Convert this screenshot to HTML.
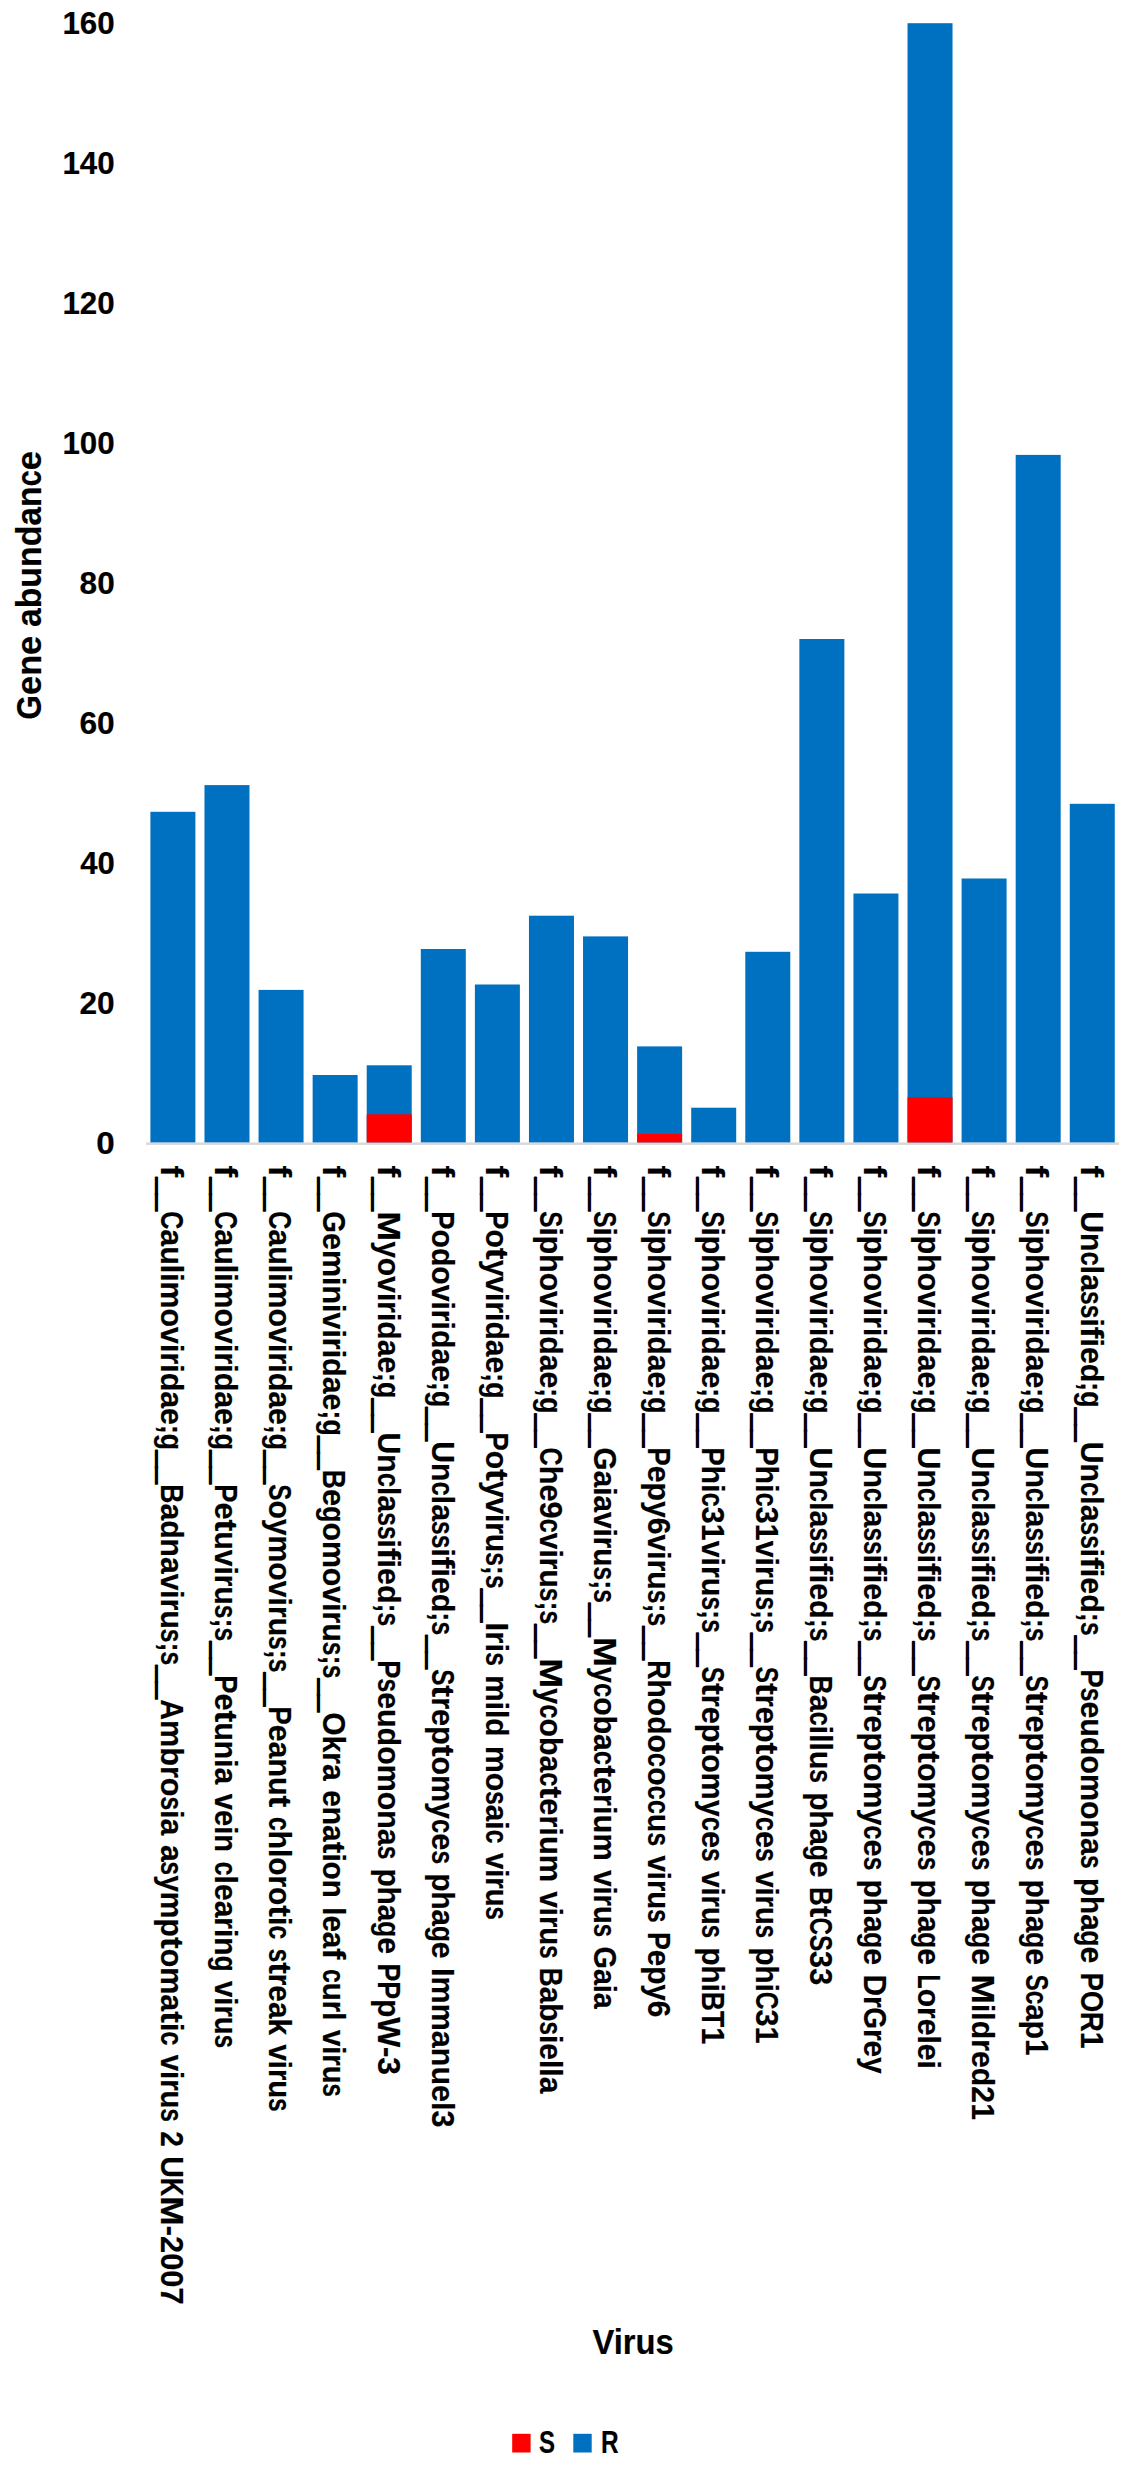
<!DOCTYPE html>
<html lang="en">
<head>
<meta charset="utf-8">
<title>Gene abundance by virus</title>
<style>
html,body{margin:0;padding:0;background:#fff;}
body{width:1146px;height:2480px;overflow:hidden;}
svg{display:block;}
text{font-family:"Liberation Sans",sans-serif;font-weight:bold;fill:#000;stroke:#000;stroke-width:0.2;stroke-linejoin:round;}
.u{stroke:#000;stroke-width:2.0;}
</style>
</head>
<body>
<svg width="1146" height="2480" viewBox="0 0 1146 2480">
<rect x="0" y="0" width="1146" height="2480" fill="#fff"/>
<!-- axis line -->
<rect x="146" y="1142.4" width="973" height="2.5" fill="#d9d9d9"/>
<!-- bars -->
<rect x="150.40" y="811.80" width="45.0" height="330.60" fill="#0070C0"/>
<rect x="204.48" y="785.10" width="45.0" height="357.30" fill="#0070C0"/>
<rect x="258.56" y="989.90" width="45.0" height="152.50" fill="#0070C0"/>
<rect x="312.64" y="1075.00" width="45.0" height="67.40" fill="#0070C0"/>
<rect x="366.72" y="1065.30" width="45.0" height="77.10" fill="#0070C0"/>
<rect x="366.72" y="1114.30" width="45.0" height="28.10" fill="#FF0000"/>
<rect x="420.80" y="949.00" width="45.0" height="193.40" fill="#0070C0"/>
<rect x="474.88" y="984.50" width="45.0" height="157.90" fill="#0070C0"/>
<rect x="528.96" y="915.70" width="45.0" height="226.70" fill="#0070C0"/>
<rect x="583.04" y="936.40" width="45.0" height="206.00" fill="#0070C0"/>
<rect x="637.12" y="1046.40" width="45.0" height="96.00" fill="#0070C0"/>
<rect x="637.12" y="1134.00" width="45.0" height="8.40" fill="#FF0000"/>
<rect x="691.20" y="1107.70" width="45.0" height="34.70" fill="#0070C0"/>
<rect x="745.28" y="951.80" width="45.0" height="190.60" fill="#0070C0"/>
<rect x="799.36" y="639.00" width="45.0" height="503.40" fill="#0070C0"/>
<rect x="853.44" y="893.50" width="45.0" height="248.90" fill="#0070C0"/>
<rect x="907.52" y="23.20" width="45.0" height="1119.20" fill="#0070C0"/>
<rect x="907.52" y="1097.30" width="45.0" height="45.10" fill="#FF0000"/>
<rect x="961.60" y="878.50" width="45.0" height="263.90" fill="#0070C0"/>
<rect x="1015.68" y="454.90" width="45.0" height="687.50" fill="#0070C0"/>
<rect x="1069.76" y="803.80" width="45.0" height="338.60" fill="#0070C0"/>
<!-- y ticks -->
<text x="96.29" y="1153.50" font-size="31.4" textLength="18.48" lengthAdjust="spacingAndGlyphs">0</text>
<text x="79.50" y="1013.56" font-size="31.4" textLength="35.19" lengthAdjust="spacingAndGlyphs">20</text>
<text x="80.13" y="873.62" font-size="31.4" textLength="34.54" lengthAdjust="spacingAndGlyphs">40</text>
<text x="79.44" y="733.68" font-size="31.4" textLength="35.26" lengthAdjust="spacingAndGlyphs">60</text>
<text x="79.60" y="593.74" font-size="31.4" textLength="35.10" lengthAdjust="spacingAndGlyphs">80</text>
<text x="62.43" y="453.80" font-size="31.4" textLength="52.26" lengthAdjust="spacingAndGlyphs">100</text>
<text x="62.43" y="313.86" font-size="31.4" textLength="52.26" lengthAdjust="spacingAndGlyphs">120</text>
<text x="62.43" y="173.92" font-size="31.4" textLength="52.26" lengthAdjust="spacingAndGlyphs">140</text>
<text x="62.43" y="33.98" font-size="31.4" textLength="52.26" lengthAdjust="spacingAndGlyphs">160</text>
<text transform="translate(41.3,718.2) rotate(-90)" y="0" font-size="35.7"><tspan x="-1.20" textLength="24.44" lengthAdjust="spacingAndGlyphs">G</tspan><tspan x="23.24" textLength="59.17" lengthAdjust="spacingAndGlyphs">ene</tspan> <tspan x="91.08" textLength="140.89" lengthAdjust="spacingAndGlyphs">abundan</tspan><tspan x="231.97" textLength="16.05" lengthAdjust="spacingAndGlyphs">c</tspan><tspan x="248.02" textLength="19.29" lengthAdjust="spacingAndGlyphs">e</tspan></text>
<text x="592.38" y="2353.9" font-size="35.4" textLength="81.36" lengthAdjust="spacingAndGlyphs">Virus</text>
<rect x="512.2" y="2433.8" width="18.4" height="18.7" fill="#FF0000"/>
<text x="539.01" y="2452.6" font-size="30.8" stroke-width="1" textLength="16.03" lengthAdjust="spacingAndGlyphs">S</text>
<rect x="573.3" y="2433.8" width="18.4" height="18.7" fill="#0070C0"/>
<text x="601.07" y="2452.6" font-size="30.8" stroke-width="1" textLength="17.63" lengthAdjust="spacingAndGlyphs">R</text>
<!-- category labels -->
<text transform="translate(161.20,1165.6) rotate(90)" font-size="31.4"><tspan x="0.00" y="0" textLength="11.67" lengthAdjust="spacingAndGlyphs">f</tspan><tspan class="u" x="12.27" y="1.1" textLength="32.82" lengthAdjust="spacingAndGlyphs">__</tspan><tspan x="45.69" y="0" textLength="18.08" lengthAdjust="spacingAndGlyphs">C</tspan><tspan x="63.76" y="0" textLength="195.56" lengthAdjust="spacingAndGlyphs">aulimoviridae</tspan><tspan x="259.33" y="0" textLength="25.31" lengthAdjust="spacingAndGlyphs">;g</tspan><tspan class="u" x="285.24" y="1.1" textLength="32.82" lengthAdjust="spacingAndGlyphs">__</tspan><tspan x="318.66" y="0" textLength="19.14" lengthAdjust="spacingAndGlyphs">B</tspan><tspan x="337.80" y="0" textLength="125.43" lengthAdjust="spacingAndGlyphs">adnaviru</tspan><tspan x="463.23" y="0" textLength="13.66" lengthAdjust="spacingAndGlyphs">s</tspan><tspan x="476.88" y="0" textLength="9.12" lengthAdjust="spacingAndGlyphs">;</tspan><tspan x="486.00" y="0" textLength="13.66" lengthAdjust="spacingAndGlyphs">s</tspan><tspan class="u" x="500.26" y="1.1" textLength="32.82" lengthAdjust="spacingAndGlyphs">__</tspan><tspan x="533.68" y="0" textLength="20.68" lengthAdjust="spacingAndGlyphs">A</tspan><tspan x="554.35" y="0" textLength="76.60" lengthAdjust="spacingAndGlyphs">mbro</tspan><tspan x="630.96" y="0" textLength="13.66" lengthAdjust="spacingAndGlyphs">s</tspan><tspan x="644.61" y="0" textLength="25.26" lengthAdjust="spacingAndGlyphs">ia</tspan> <tspan x="679.30" y="0" textLength="16.73" lengthAdjust="spacingAndGlyphs">a</tspan><tspan x="696.03" y="0" textLength="13.54" lengthAdjust="spacingAndGlyphs">s</tspan><tspan x="709.57" y="0" textLength="61.77" lengthAdjust="spacingAndGlyphs">ymp</tspan><tspan x="771.35" y="0" textLength="11.74" lengthAdjust="spacingAndGlyphs">t</tspan><tspan x="783.09" y="0" textLength="62.48" lengthAdjust="spacingAndGlyphs">oma</tspan><tspan x="845.57" y="0" textLength="11.74" lengthAdjust="spacingAndGlyphs">t</tspan><tspan x="857.31" y="0" textLength="8.32" lengthAdjust="spacingAndGlyphs">i</tspan><tspan x="865.63" y="0" textLength="14.17" lengthAdjust="spacingAndGlyphs">c</tspan> <tspan x="889.22" y="0" textLength="53.63" lengthAdjust="spacingAndGlyphs">viru</tspan><tspan x="942.85" y="0" textLength="13.32" lengthAdjust="spacingAndGlyphs">s</tspan> <tspan x="965.59" y="0" textLength="15.61" lengthAdjust="spacingAndGlyphs">2</tspan> <tspan x="990.62" y="0" textLength="21.66" lengthAdjust="spacingAndGlyphs">U</tspan><tspan x="1012.28" y="0" textLength="18.46" lengthAdjust="spacingAndGlyphs">K</tspan><tspan x="1030.74" y="0" textLength="29.51" lengthAdjust="spacingAndGlyphs">M</tspan><tspan x="1060.25" y="0" textLength="78.79" lengthAdjust="spacingAndGlyphs">-2007</tspan></text>
<text transform="translate(215.28,1165.6) rotate(90)" font-size="31.4"><tspan x="0.00" y="0" textLength="11.67" lengthAdjust="spacingAndGlyphs">f</tspan><tspan class="u" x="12.27" y="1.1" textLength="32.82" lengthAdjust="spacingAndGlyphs">__</tspan><tspan x="45.69" y="0" textLength="18.08" lengthAdjust="spacingAndGlyphs">C</tspan><tspan x="63.76" y="0" textLength="195.56" lengthAdjust="spacingAndGlyphs">aulimoviridae</tspan><tspan x="259.33" y="0" textLength="25.31" lengthAdjust="spacingAndGlyphs">;g</tspan><tspan class="u" x="285.24" y="1.1" textLength="32.82" lengthAdjust="spacingAndGlyphs">__</tspan><tspan x="318.66" y="0" textLength="18.18" lengthAdjust="spacingAndGlyphs">P</tspan><tspan x="336.83" y="0" textLength="17.18" lengthAdjust="spacingAndGlyphs">e</tspan><tspan x="354.01" y="0" textLength="11.84" lengthAdjust="spacingAndGlyphs">t</tspan><tspan x="365.85" y="0" textLength="73.34" lengthAdjust="spacingAndGlyphs">uviru</tspan><tspan x="439.18" y="0" textLength="13.66" lengthAdjust="spacingAndGlyphs">s</tspan><tspan x="452.84" y="0" textLength="9.12" lengthAdjust="spacingAndGlyphs">;</tspan><tspan x="461.96" y="0" textLength="13.66" lengthAdjust="spacingAndGlyphs">s</tspan><tspan class="u" x="476.22" y="1.1" textLength="32.82" lengthAdjust="spacingAndGlyphs">__</tspan><tspan x="509.63" y="0" textLength="18.18" lengthAdjust="spacingAndGlyphs">P</tspan><tspan x="527.81" y="0" textLength="17.18" lengthAdjust="spacingAndGlyphs">e</tspan><tspan x="544.98" y="0" textLength="11.84" lengthAdjust="spacingAndGlyphs">t</tspan><tspan x="556.82" y="0" textLength="61.95" lengthAdjust="spacingAndGlyphs">unia</tspan> <tspan x="628.19" y="0" textLength="58.35" lengthAdjust="spacingAndGlyphs">vein</tspan> <tspan x="695.96" y="0" textLength="14.07" lengthAdjust="spacingAndGlyphs">c</tspan><tspan x="710.03" y="0" textLength="80.05" lengthAdjust="spacingAndGlyphs">learin</tspan><tspan x="790.08" y="0" textLength="15.94" lengthAdjust="spacingAndGlyphs">g</tspan> <tspan x="815.45" y="0" textLength="53.63" lengthAdjust="spacingAndGlyphs">viru</tspan><tspan x="869.08" y="0" textLength="13.32" lengthAdjust="spacingAndGlyphs">s</tspan></text>
<text transform="translate(269.36,1165.6) rotate(90)" font-size="31.4"><tspan x="0.00" y="0" textLength="11.67" lengthAdjust="spacingAndGlyphs">f</tspan><tspan class="u" x="12.27" y="1.1" textLength="32.82" lengthAdjust="spacingAndGlyphs">__</tspan><tspan x="45.69" y="0" textLength="18.08" lengthAdjust="spacingAndGlyphs">C</tspan><tspan x="63.76" y="0" textLength="195.56" lengthAdjust="spacingAndGlyphs">aulimoviridae</tspan><tspan x="259.33" y="0" textLength="25.31" lengthAdjust="spacingAndGlyphs">;g</tspan><tspan class="u" x="285.24" y="1.1" textLength="32.82" lengthAdjust="spacingAndGlyphs">__</tspan><tspan x="318.66" y="0" textLength="16.14" lengthAdjust="spacingAndGlyphs">S</tspan><tspan x="334.80" y="0" textLength="135.67" lengthAdjust="spacingAndGlyphs">oymoviru</tspan><tspan x="470.46" y="0" textLength="13.66" lengthAdjust="spacingAndGlyphs">s</tspan><tspan x="484.12" y="0" textLength="9.12" lengthAdjust="spacingAndGlyphs">;</tspan><tspan x="493.24" y="0" textLength="13.66" lengthAdjust="spacingAndGlyphs">s</tspan><tspan class="u" x="507.50" y="1.1" textLength="32.82" lengthAdjust="spacingAndGlyphs">__</tspan><tspan x="540.91" y="0" textLength="18.18" lengthAdjust="spacingAndGlyphs">P</tspan><tspan x="559.09" y="0" textLength="70.73" lengthAdjust="spacingAndGlyphs">eanu</tspan><tspan x="629.82" y="0" textLength="11.84" lengthAdjust="spacingAndGlyphs">t</tspan> <tspan x="651.08" y="0" textLength="14.09" lengthAdjust="spacingAndGlyphs">c</tspan><tspan x="665.18" y="0" textLength="74.54" lengthAdjust="spacingAndGlyphs">hloro</tspan><tspan x="739.72" y="0" textLength="11.68" lengthAdjust="spacingAndGlyphs">t</tspan><tspan x="751.39" y="0" textLength="8.27" lengthAdjust="spacingAndGlyphs">i</tspan><tspan x="759.67" y="0" textLength="14.09" lengthAdjust="spacingAndGlyphs">c</tspan> <tspan x="783.18" y="0" textLength="13.39" lengthAdjust="spacingAndGlyphs">s</tspan><tspan x="796.57" y="0" textLength="11.61" lengthAdjust="spacingAndGlyphs">t</tspan><tspan x="808.18" y="0" textLength="61.34" lengthAdjust="spacingAndGlyphs">reak</tspan> <tspan x="878.94" y="0" textLength="53.63" lengthAdjust="spacingAndGlyphs">viru</tspan><tspan x="932.58" y="0" textLength="13.32" lengthAdjust="spacingAndGlyphs">s</tspan></text>
<text transform="translate(323.44,1165.6) rotate(90)" font-size="31.4"><tspan x="0.00" y="0" textLength="11.67" lengthAdjust="spacingAndGlyphs">f</tspan><tspan class="u" x="12.27" y="1.1" textLength="32.82" lengthAdjust="spacingAndGlyphs">__</tspan><tspan x="45.69" y="0" textLength="21.76" lengthAdjust="spacingAndGlyphs">G</tspan><tspan x="67.45" y="0" textLength="177.50" lengthAdjust="spacingAndGlyphs">eminiviridae</tspan><tspan x="244.95" y="0" textLength="25.31" lengthAdjust="spacingAndGlyphs">;g</tspan><tspan class="u" x="270.87" y="1.1" textLength="32.82" lengthAdjust="spacingAndGlyphs">__</tspan><tspan x="304.28" y="0" textLength="19.14" lengthAdjust="spacingAndGlyphs">B</tspan><tspan x="323.42" y="0" textLength="17.18" lengthAdjust="spacingAndGlyphs">e</tspan><tspan x="340.60" y="0" textLength="16.19" lengthAdjust="spacingAndGlyphs">g</tspan><tspan x="356.79" y="0" textLength="119.49" lengthAdjust="spacingAndGlyphs">omoviru</tspan><tspan x="476.28" y="0" textLength="13.66" lengthAdjust="spacingAndGlyphs">s</tspan><tspan x="489.94" y="0" textLength="9.12" lengthAdjust="spacingAndGlyphs">;</tspan><tspan x="499.06" y="0" textLength="13.66" lengthAdjust="spacingAndGlyphs">s</tspan><tspan class="u" x="513.32" y="1.1" textLength="32.82" lengthAdjust="spacingAndGlyphs">__</tspan><tspan x="546.73" y="0" textLength="68.42" lengthAdjust="spacingAndGlyphs">Okra</tspan> <tspan x="624.57" y="0" textLength="51.58" lengthAdjust="spacingAndGlyphs">ena</tspan><tspan x="676.15" y="0" textLength="11.66" lengthAdjust="spacingAndGlyphs">t</tspan><tspan x="687.80" y="0" textLength="44.39" lengthAdjust="spacingAndGlyphs">ion</tspan> <tspan x="741.61" y="0" textLength="41.10" lengthAdjust="spacingAndGlyphs">lea</tspan><tspan x="782.72" y="0" textLength="11.31" lengthAdjust="spacingAndGlyphs">f</tspan> <tspan x="803.44" y="0" textLength="13.83" lengthAdjust="spacingAndGlyphs">c</tspan><tspan x="817.27" y="0" textLength="37.61" lengthAdjust="spacingAndGlyphs">url</tspan> <tspan x="864.30" y="0" textLength="53.63" lengthAdjust="spacingAndGlyphs">viru</tspan><tspan x="917.94" y="0" textLength="13.32" lengthAdjust="spacingAndGlyphs">s</tspan></text>
<text transform="translate(377.52,1165.6) rotate(90)" font-size="31.4"><tspan x="0.00" y="0" textLength="11.67" lengthAdjust="spacingAndGlyphs">f</tspan><tspan class="u" x="12.27" y="1.1" textLength="32.82" lengthAdjust="spacingAndGlyphs">__</tspan><tspan x="45.69" y="0" textLength="29.85" lengthAdjust="spacingAndGlyphs">M</tspan><tspan x="75.54" y="0" textLength="131.96" lengthAdjust="spacingAndGlyphs">yoviridae</tspan><tspan x="207.50" y="0" textLength="25.31" lengthAdjust="spacingAndGlyphs">;g</tspan><tspan class="u" x="233.41" y="1.1" textLength="32.82" lengthAdjust="spacingAndGlyphs">__</tspan><tspan x="266.83" y="0" textLength="40.25" lengthAdjust="spacingAndGlyphs">Un</tspan><tspan x="307.08" y="0" textLength="14.29" lengthAdjust="spacingAndGlyphs">c</tspan><tspan x="321.37" y="0" textLength="25.26" lengthAdjust="spacingAndGlyphs">la</tspan><tspan x="346.64" y="0" textLength="27.31" lengthAdjust="spacingAndGlyphs">ss</tspan><tspan x="373.95" y="0" textLength="8.39" lengthAdjust="spacingAndGlyphs">i</tspan><tspan x="382.34" y="0" textLength="11.67" lengthAdjust="spacingAndGlyphs">f</tspan><tspan x="394.01" y="0" textLength="43.90" lengthAdjust="spacingAndGlyphs">ied</tspan><tspan x="437.91" y="0" textLength="9.12" lengthAdjust="spacingAndGlyphs">;</tspan><tspan x="447.03" y="0" textLength="13.66" lengthAdjust="spacingAndGlyphs">s</tspan><tspan class="u" x="461.29" y="1.1" textLength="32.82" lengthAdjust="spacingAndGlyphs">__</tspan><tspan x="494.71" y="0" textLength="18.18" lengthAdjust="spacingAndGlyphs">P</tspan><tspan x="512.88" y="0" textLength="13.66" lengthAdjust="spacingAndGlyphs">s</tspan><tspan x="526.54" y="0" textLength="153.57" lengthAdjust="spacingAndGlyphs">eudomona</tspan><tspan x="680.12" y="0" textLength="13.66" lengthAdjust="spacingAndGlyphs">s</tspan> <tspan x="703.19" y="0" textLength="52.51" lengthAdjust="spacingAndGlyphs">pha</tspan><tspan x="755.70" y="0" textLength="15.87" lengthAdjust="spacingAndGlyphs">g</tspan><tspan x="771.58" y="0" textLength="16.84" lengthAdjust="spacingAndGlyphs">e</tspan> <tspan x="797.84" y="0" textLength="35.81" lengthAdjust="spacingAndGlyphs">PP</tspan><tspan x="833.64" y="0" textLength="18.07" lengthAdjust="spacingAndGlyphs">p</tspan><tspan x="851.71" y="0" textLength="57.62" lengthAdjust="spacingAndGlyphs">W-3</tspan></text>
<text transform="translate(431.60,1165.6) rotate(90)" font-size="31.4"><tspan x="0.00" y="0" textLength="11.67" lengthAdjust="spacingAndGlyphs">f</tspan><tspan class="u" x="12.27" y="1.1" textLength="32.82" lengthAdjust="spacingAndGlyphs">__</tspan><tspan x="45.69" y="0" textLength="18.18" lengthAdjust="spacingAndGlyphs">P</tspan><tspan x="63.86" y="0" textLength="152.49" lengthAdjust="spacingAndGlyphs">odoviridae</tspan><tspan x="216.36" y="0" textLength="25.31" lengthAdjust="spacingAndGlyphs">;g</tspan><tspan class="u" x="242.27" y="1.1" textLength="32.82" lengthAdjust="spacingAndGlyphs">__</tspan><tspan x="275.68" y="0" textLength="40.25" lengthAdjust="spacingAndGlyphs">Un</tspan><tspan x="315.94" y="0" textLength="14.29" lengthAdjust="spacingAndGlyphs">c</tspan><tspan x="330.23" y="0" textLength="25.26" lengthAdjust="spacingAndGlyphs">la</tspan><tspan x="355.49" y="0" textLength="27.31" lengthAdjust="spacingAndGlyphs">ss</tspan><tspan x="382.80" y="0" textLength="8.39" lengthAdjust="spacingAndGlyphs">i</tspan><tspan x="391.19" y="0" textLength="11.67" lengthAdjust="spacingAndGlyphs">f</tspan><tspan x="402.86" y="0" textLength="43.90" lengthAdjust="spacingAndGlyphs">ied</tspan><tspan x="446.77" y="0" textLength="9.12" lengthAdjust="spacingAndGlyphs">;</tspan><tspan x="455.89" y="0" textLength="13.66" lengthAdjust="spacingAndGlyphs">s</tspan><tspan class="u" x="470.15" y="1.1" textLength="32.82" lengthAdjust="spacingAndGlyphs">__</tspan><tspan x="503.56" y="0" textLength="16.14" lengthAdjust="spacingAndGlyphs">S</tspan><tspan x="519.70" y="0" textLength="11.84" lengthAdjust="spacingAndGlyphs">t</tspan><tspan x="531.54" y="0" textLength="47.64" lengthAdjust="spacingAndGlyphs">rep</tspan><tspan x="579.18" y="0" textLength="11.84" lengthAdjust="spacingAndGlyphs">t</tspan><tspan x="591.02" y="0" textLength="62.31" lengthAdjust="spacingAndGlyphs">omy</tspan><tspan x="653.34" y="0" textLength="14.29" lengthAdjust="spacingAndGlyphs">c</tspan><tspan x="667.63" y="0" textLength="17.18" lengthAdjust="spacingAndGlyphs">e</tspan><tspan x="684.80" y="0" textLength="13.66" lengthAdjust="spacingAndGlyphs">s</tspan> <tspan x="707.88" y="0" textLength="52.51" lengthAdjust="spacingAndGlyphs">pha</tspan><tspan x="760.39" y="0" textLength="15.87" lengthAdjust="spacingAndGlyphs">g</tspan><tspan x="776.26" y="0" textLength="16.84" lengthAdjust="spacingAndGlyphs">e</tspan> <tspan x="802.52" y="0" textLength="159.40" lengthAdjust="spacingAndGlyphs">Immanuel3</tspan></text>
<text transform="translate(485.68,1165.6) rotate(90)" font-size="31.4"><tspan x="0.00" y="0" textLength="11.67" lengthAdjust="spacingAndGlyphs">f</tspan><tspan class="u" x="12.27" y="1.1" textLength="32.82" lengthAdjust="spacingAndGlyphs">__</tspan><tspan x="45.69" y="0" textLength="18.18" lengthAdjust="spacingAndGlyphs">P</tspan><tspan x="63.86" y="0" textLength="18.36" lengthAdjust="spacingAndGlyphs">o</tspan><tspan x="82.22" y="0" textLength="11.84" lengthAdjust="spacingAndGlyphs">t</tspan><tspan x="94.06" y="0" textLength="113.61" lengthAdjust="spacingAndGlyphs">yviridae</tspan><tspan x="207.67" y="0" textLength="25.31" lengthAdjust="spacingAndGlyphs">;g</tspan><tspan class="u" x="233.58" y="1.1" textLength="32.82" lengthAdjust="spacingAndGlyphs">__</tspan><tspan x="267.00" y="0" textLength="18.18" lengthAdjust="spacingAndGlyphs">P</tspan><tspan x="285.17" y="0" textLength="18.36" lengthAdjust="spacingAndGlyphs">o</tspan><tspan x="303.53" y="0" textLength="11.84" lengthAdjust="spacingAndGlyphs">t</tspan><tspan x="315.37" y="0" textLength="71.17" lengthAdjust="spacingAndGlyphs">yviru</tspan><tspan x="386.54" y="0" textLength="13.66" lengthAdjust="spacingAndGlyphs">s</tspan><tspan x="400.20" y="0" textLength="9.12" lengthAdjust="spacingAndGlyphs">;</tspan><tspan x="409.32" y="0" textLength="13.66" lengthAdjust="spacingAndGlyphs">s</tspan><tspan class="u" x="423.57" y="1.1" textLength="32.82" lengthAdjust="spacingAndGlyphs">__</tspan><tspan x="456.99" y="0" textLength="29.61" lengthAdjust="spacingAndGlyphs">Iri</tspan><tspan x="486.60" y="0" textLength="13.66" lengthAdjust="spacingAndGlyphs">s</tspan> <tspan x="509.68" y="0" textLength="61.20" lengthAdjust="spacingAndGlyphs">mild</tspan> <tspan x="580.30" y="0" textLength="45.35" lengthAdjust="spacingAndGlyphs">mo</tspan><tspan x="625.65" y="0" textLength="13.42" lengthAdjust="spacingAndGlyphs">s</tspan><tspan x="639.07" y="0" textLength="24.83" lengthAdjust="spacingAndGlyphs">ai</tspan><tspan x="663.90" y="0" textLength="14.05" lengthAdjust="spacingAndGlyphs">c</tspan> <tspan x="687.37" y="0" textLength="53.63" lengthAdjust="spacingAndGlyphs">viru</tspan><tspan x="741.00" y="0" textLength="13.32" lengthAdjust="spacingAndGlyphs">s</tspan></text>
<text transform="translate(539.76,1165.6) rotate(90)" font-size="31.4"><tspan x="0.00" y="0" textLength="11.67" lengthAdjust="spacingAndGlyphs">f</tspan><tspan class="u" x="12.27" y="1.1" textLength="32.82" lengthAdjust="spacingAndGlyphs">__</tspan><tspan x="45.69" y="0" textLength="16.14" lengthAdjust="spacingAndGlyphs">S</tspan><tspan x="61.83" y="0" textLength="160.86" lengthAdjust="spacingAndGlyphs">iphoviridae</tspan><tspan x="222.69" y="0" textLength="25.31" lengthAdjust="spacingAndGlyphs">;g</tspan><tspan class="u" x="248.60" y="1.1" textLength="32.82" lengthAdjust="spacingAndGlyphs">__</tspan><tspan x="282.02" y="0" textLength="18.08" lengthAdjust="spacingAndGlyphs">C</tspan><tspan x="300.10" y="0" textLength="52.83" lengthAdjust="spacingAndGlyphs">he9</tspan><tspan x="352.92" y="0" textLength="14.29" lengthAdjust="spacingAndGlyphs">c</tspan><tspan x="367.21" y="0" textLength="54.99" lengthAdjust="spacingAndGlyphs">viru</tspan><tspan x="422.21" y="0" textLength="13.66" lengthAdjust="spacingAndGlyphs">s</tspan><tspan x="435.86" y="0" textLength="9.12" lengthAdjust="spacingAndGlyphs">;</tspan><tspan x="444.98" y="0" textLength="13.66" lengthAdjust="spacingAndGlyphs">s</tspan><tspan class="u" x="459.24" y="1.1" textLength="32.82" lengthAdjust="spacingAndGlyphs">__</tspan><tspan x="492.66" y="0" textLength="29.85" lengthAdjust="spacingAndGlyphs">M</tspan><tspan x="522.51" y="0" textLength="16.17" lengthAdjust="spacingAndGlyphs">y</tspan><tspan x="538.68" y="0" textLength="14.29" lengthAdjust="spacingAndGlyphs">c</tspan><tspan x="552.97" y="0" textLength="53.58" lengthAdjust="spacingAndGlyphs">oba</tspan><tspan x="606.55" y="0" textLength="14.29" lengthAdjust="spacingAndGlyphs">c</tspan><tspan x="620.84" y="0" textLength="11.84" lengthAdjust="spacingAndGlyphs">t</tspan><tspan x="632.68" y="0" textLength="83.81" lengthAdjust="spacingAndGlyphs">erium</tspan> <tspan x="725.90" y="0" textLength="53.63" lengthAdjust="spacingAndGlyphs">viru</tspan><tspan x="779.54" y="0" textLength="13.32" lengthAdjust="spacingAndGlyphs">s</tspan> <tspan x="802.27" y="0" textLength="18.89" lengthAdjust="spacingAndGlyphs">B</tspan><tspan x="821.16" y="0" textLength="34.75" lengthAdjust="spacingAndGlyphs">ab</tspan><tspan x="855.91" y="0" textLength="13.47" lengthAdjust="spacingAndGlyphs">s</tspan><tspan x="869.38" y="0" textLength="58.42" lengthAdjust="spacingAndGlyphs">iella</tspan></text>
<text transform="translate(593.84,1165.6) rotate(90)" font-size="31.4"><tspan x="0.00" y="0" textLength="11.67" lengthAdjust="spacingAndGlyphs">f</tspan><tspan class="u" x="12.27" y="1.1" textLength="32.82" lengthAdjust="spacingAndGlyphs">__</tspan><tspan x="45.69" y="0" textLength="16.14" lengthAdjust="spacingAndGlyphs">S</tspan><tspan x="61.83" y="0" textLength="160.86" lengthAdjust="spacingAndGlyphs">iphoviridae</tspan><tspan x="222.69" y="0" textLength="25.31" lengthAdjust="spacingAndGlyphs">;g</tspan><tspan class="u" x="248.60" y="1.1" textLength="32.82" lengthAdjust="spacingAndGlyphs">__</tspan><tspan x="282.02" y="0" textLength="118.89" lengthAdjust="spacingAndGlyphs">Gaiaviru</tspan><tspan x="400.91" y="0" textLength="13.66" lengthAdjust="spacingAndGlyphs">s</tspan><tspan x="414.57" y="0" textLength="9.12" lengthAdjust="spacingAndGlyphs">;</tspan><tspan x="423.69" y="0" textLength="13.66" lengthAdjust="spacingAndGlyphs">s</tspan><tspan class="u" x="437.95" y="1.1" textLength="32.82" lengthAdjust="spacingAndGlyphs">__</tspan><tspan x="471.36" y="0" textLength="29.85" lengthAdjust="spacingAndGlyphs">M</tspan><tspan x="501.21" y="0" textLength="16.17" lengthAdjust="spacingAndGlyphs">y</tspan><tspan x="517.39" y="0" textLength="14.29" lengthAdjust="spacingAndGlyphs">c</tspan><tspan x="531.68" y="0" textLength="53.58" lengthAdjust="spacingAndGlyphs">oba</tspan><tspan x="585.25" y="0" textLength="14.29" lengthAdjust="spacingAndGlyphs">c</tspan><tspan x="599.54" y="0" textLength="11.84" lengthAdjust="spacingAndGlyphs">t</tspan><tspan x="611.38" y="0" textLength="83.81" lengthAdjust="spacingAndGlyphs">erium</tspan> <tspan x="704.61" y="0" textLength="53.63" lengthAdjust="spacingAndGlyphs">viru</tspan><tspan x="758.24" y="0" textLength="13.32" lengthAdjust="spacingAndGlyphs">s</tspan> <tspan x="780.98" y="0" textLength="62.20" lengthAdjust="spacingAndGlyphs">Gaia</tspan></text>
<text transform="translate(647.92,1165.6) rotate(90)" font-size="31.4"><tspan x="0.00" y="0" textLength="11.67" lengthAdjust="spacingAndGlyphs">f</tspan><tspan class="u" x="12.27" y="1.1" textLength="32.82" lengthAdjust="spacingAndGlyphs">__</tspan><tspan x="45.69" y="0" textLength="16.14" lengthAdjust="spacingAndGlyphs">S</tspan><tspan x="61.83" y="0" textLength="160.86" lengthAdjust="spacingAndGlyphs">iphoviridae</tspan><tspan x="222.69" y="0" textLength="25.31" lengthAdjust="spacingAndGlyphs">;g</tspan><tspan class="u" x="248.60" y="1.1" textLength="32.82" lengthAdjust="spacingAndGlyphs">__</tspan><tspan x="282.02" y="0" textLength="18.18" lengthAdjust="spacingAndGlyphs">P</tspan><tspan x="300.20" y="0" textLength="123.99" lengthAdjust="spacingAndGlyphs">epy6viru</tspan><tspan x="424.19" y="0" textLength="13.66" lengthAdjust="spacingAndGlyphs">s</tspan><tspan x="437.85" y="0" textLength="9.12" lengthAdjust="spacingAndGlyphs">;</tspan><tspan x="446.97" y="0" textLength="13.66" lengthAdjust="spacingAndGlyphs">s</tspan><tspan class="u" x="461.22" y="1.1" textLength="32.82" lengthAdjust="spacingAndGlyphs">__</tspan><tspan x="494.64" y="0" textLength="19.23" lengthAdjust="spacingAndGlyphs">R</tspan><tspan x="513.87" y="0" textLength="73.40" lengthAdjust="spacingAndGlyphs">hodo</tspan><tspan x="587.27" y="0" textLength="14.29" lengthAdjust="spacingAndGlyphs">c</tspan><tspan x="601.56" y="0" textLength="18.36" lengthAdjust="spacingAndGlyphs">o</tspan><tspan x="619.92" y="0" textLength="28.58" lengthAdjust="spacingAndGlyphs">cc</tspan><tspan x="648.50" y="0" textLength="18.34" lengthAdjust="spacingAndGlyphs">u</tspan><tspan x="666.84" y="0" textLength="13.66" lengthAdjust="spacingAndGlyphs">s</tspan> <tspan x="689.92" y="0" textLength="53.63" lengthAdjust="spacingAndGlyphs">viru</tspan><tspan x="743.55" y="0" textLength="13.32" lengthAdjust="spacingAndGlyphs">s</tspan> <tspan x="766.29" y="0" textLength="17.82" lengthAdjust="spacingAndGlyphs">P</tspan><tspan x="784.11" y="0" textLength="67.65" lengthAdjust="spacingAndGlyphs">epy6</tspan></text>
<text transform="translate(702.00,1165.6) rotate(90)" font-size="31.4"><tspan x="0.00" y="0" textLength="11.67" lengthAdjust="spacingAndGlyphs">f</tspan><tspan class="u" x="12.27" y="1.1" textLength="32.82" lengthAdjust="spacingAndGlyphs">__</tspan><tspan x="45.69" y="0" textLength="16.14" lengthAdjust="spacingAndGlyphs">S</tspan><tspan x="61.83" y="0" textLength="160.86" lengthAdjust="spacingAndGlyphs">iphoviridae</tspan><tspan x="222.69" y="0" textLength="25.31" lengthAdjust="spacingAndGlyphs">;g</tspan><tspan class="u" x="248.60" y="1.1" textLength="32.82" lengthAdjust="spacingAndGlyphs">__</tspan><tspan x="282.02" y="0" textLength="18.18" lengthAdjust="spacingAndGlyphs">P</tspan><tspan x="300.20" y="0" textLength="26.73" lengthAdjust="spacingAndGlyphs">hi</tspan><tspan x="326.93" y="0" textLength="14.29" lengthAdjust="spacingAndGlyphs">c</tspan><tspan x="341.22" y="0" textLength="89.61" lengthAdjust="spacingAndGlyphs">31viru</tspan><tspan x="430.83" y="0" textLength="13.66" lengthAdjust="spacingAndGlyphs">s</tspan><tspan x="444.48" y="0" textLength="9.12" lengthAdjust="spacingAndGlyphs">;</tspan><tspan x="453.60" y="0" textLength="13.66" lengthAdjust="spacingAndGlyphs">s</tspan><tspan class="u" x="467.86" y="1.1" textLength="32.82" lengthAdjust="spacingAndGlyphs">__</tspan><tspan x="501.28" y="0" textLength="16.14" lengthAdjust="spacingAndGlyphs">S</tspan><tspan x="517.42" y="0" textLength="11.84" lengthAdjust="spacingAndGlyphs">t</tspan><tspan x="529.26" y="0" textLength="47.64" lengthAdjust="spacingAndGlyphs">rep</tspan><tspan x="576.90" y="0" textLength="11.84" lengthAdjust="spacingAndGlyphs">t</tspan><tspan x="588.74" y="0" textLength="62.31" lengthAdjust="spacingAndGlyphs">omy</tspan><tspan x="651.05" y="0" textLength="14.29" lengthAdjust="spacingAndGlyphs">c</tspan><tspan x="665.34" y="0" textLength="17.18" lengthAdjust="spacingAndGlyphs">e</tspan><tspan x="682.52" y="0" textLength="13.66" lengthAdjust="spacingAndGlyphs">s</tspan> <tspan x="705.59" y="0" textLength="53.63" lengthAdjust="spacingAndGlyphs">viru</tspan><tspan x="759.23" y="0" textLength="13.32" lengthAdjust="spacingAndGlyphs">s</tspan> <tspan x="781.96" y="0" textLength="44.29" lengthAdjust="spacingAndGlyphs">phi</tspan><tspan x="826.26" y="0" textLength="35.43" lengthAdjust="spacingAndGlyphs">BT</tspan><tspan x="861.69" y="0" textLength="17.01" lengthAdjust="spacingAndGlyphs">1</tspan></text>
<text transform="translate(756.08,1165.6) rotate(90)" font-size="31.4"><tspan x="0.00" y="0" textLength="11.67" lengthAdjust="spacingAndGlyphs">f</tspan><tspan class="u" x="12.27" y="1.1" textLength="32.82" lengthAdjust="spacingAndGlyphs">__</tspan><tspan x="45.69" y="0" textLength="16.14" lengthAdjust="spacingAndGlyphs">S</tspan><tspan x="61.83" y="0" textLength="160.86" lengthAdjust="spacingAndGlyphs">iphoviridae</tspan><tspan x="222.69" y="0" textLength="25.31" lengthAdjust="spacingAndGlyphs">;g</tspan><tspan class="u" x="248.60" y="1.1" textLength="32.82" lengthAdjust="spacingAndGlyphs">__</tspan><tspan x="282.02" y="0" textLength="18.18" lengthAdjust="spacingAndGlyphs">P</tspan><tspan x="300.20" y="0" textLength="26.73" lengthAdjust="spacingAndGlyphs">hi</tspan><tspan x="326.93" y="0" textLength="14.29" lengthAdjust="spacingAndGlyphs">c</tspan><tspan x="341.22" y="0" textLength="89.61" lengthAdjust="spacingAndGlyphs">31viru</tspan><tspan x="430.83" y="0" textLength="13.66" lengthAdjust="spacingAndGlyphs">s</tspan><tspan x="444.48" y="0" textLength="9.12" lengthAdjust="spacingAndGlyphs">;</tspan><tspan x="453.60" y="0" textLength="13.66" lengthAdjust="spacingAndGlyphs">s</tspan><tspan class="u" x="467.86" y="1.1" textLength="32.82" lengthAdjust="spacingAndGlyphs">__</tspan><tspan x="501.28" y="0" textLength="16.14" lengthAdjust="spacingAndGlyphs">S</tspan><tspan x="517.42" y="0" textLength="11.84" lengthAdjust="spacingAndGlyphs">t</tspan><tspan x="529.26" y="0" textLength="47.64" lengthAdjust="spacingAndGlyphs">rep</tspan><tspan x="576.90" y="0" textLength="11.84" lengthAdjust="spacingAndGlyphs">t</tspan><tspan x="588.74" y="0" textLength="62.31" lengthAdjust="spacingAndGlyphs">omy</tspan><tspan x="651.05" y="0" textLength="14.29" lengthAdjust="spacingAndGlyphs">c</tspan><tspan x="665.34" y="0" textLength="17.18" lengthAdjust="spacingAndGlyphs">e</tspan><tspan x="682.52" y="0" textLength="13.66" lengthAdjust="spacingAndGlyphs">s</tspan> <tspan x="705.59" y="0" textLength="53.63" lengthAdjust="spacingAndGlyphs">viru</tspan><tspan x="759.23" y="0" textLength="13.32" lengthAdjust="spacingAndGlyphs">s</tspan> <tspan x="781.96" y="0" textLength="44.29" lengthAdjust="spacingAndGlyphs">phi</tspan><tspan x="826.25" y="0" textLength="17.76" lengthAdjust="spacingAndGlyphs">C</tspan><tspan x="844.01" y="0" textLength="34.01" lengthAdjust="spacingAndGlyphs">31</tspan></text>
<text transform="translate(810.16,1165.6) rotate(90)" font-size="31.4"><tspan x="0.00" y="0" textLength="11.67" lengthAdjust="spacingAndGlyphs">f</tspan><tspan class="u" x="12.27" y="1.1" textLength="32.82" lengthAdjust="spacingAndGlyphs">__</tspan><tspan x="45.69" y="0" textLength="16.14" lengthAdjust="spacingAndGlyphs">S</tspan><tspan x="61.83" y="0" textLength="160.86" lengthAdjust="spacingAndGlyphs">iphoviridae</tspan><tspan x="222.69" y="0" textLength="25.31" lengthAdjust="spacingAndGlyphs">;g</tspan><tspan class="u" x="248.60" y="1.1" textLength="32.82" lengthAdjust="spacingAndGlyphs">__</tspan><tspan x="282.02" y="0" textLength="40.25" lengthAdjust="spacingAndGlyphs">Un</tspan><tspan x="322.27" y="0" textLength="14.29" lengthAdjust="spacingAndGlyphs">c</tspan><tspan x="336.56" y="0" textLength="25.26" lengthAdjust="spacingAndGlyphs">la</tspan><tspan x="361.83" y="0" textLength="27.31" lengthAdjust="spacingAndGlyphs">ss</tspan><tspan x="389.14" y="0" textLength="8.39" lengthAdjust="spacingAndGlyphs">i</tspan><tspan x="397.53" y="0" textLength="11.67" lengthAdjust="spacingAndGlyphs">f</tspan><tspan x="409.20" y="0" textLength="43.90" lengthAdjust="spacingAndGlyphs">ied</tspan><tspan x="453.10" y="0" textLength="9.12" lengthAdjust="spacingAndGlyphs">;</tspan><tspan x="462.23" y="0" textLength="13.66" lengthAdjust="spacingAndGlyphs">s</tspan><tspan class="u" x="476.48" y="1.1" textLength="32.82" lengthAdjust="spacingAndGlyphs">__</tspan><tspan x="509.90" y="0" textLength="19.14" lengthAdjust="spacingAndGlyphs">B</tspan><tspan x="529.04" y="0" textLength="16.87" lengthAdjust="spacingAndGlyphs">a</tspan><tspan x="545.92" y="0" textLength="14.29" lengthAdjust="spacingAndGlyphs">c</tspan><tspan x="560.21" y="0" textLength="43.50" lengthAdjust="spacingAndGlyphs">illu</tspan><tspan x="603.71" y="0" textLength="13.66" lengthAdjust="spacingAndGlyphs">s</tspan> <tspan x="626.79" y="0" textLength="52.51" lengthAdjust="spacingAndGlyphs">pha</tspan><tspan x="679.30" y="0" textLength="15.87" lengthAdjust="spacingAndGlyphs">g</tspan><tspan x="695.18" y="0" textLength="16.84" lengthAdjust="spacingAndGlyphs">e</tspan> <tspan x="721.43" y="0" textLength="18.82" lengthAdjust="spacingAndGlyphs">B</tspan><tspan x="740.25" y="0" textLength="11.64" lengthAdjust="spacingAndGlyphs">t</tspan><tspan x="751.89" y="0" textLength="33.63" lengthAdjust="spacingAndGlyphs">CS</tspan><tspan x="785.52" y="0" textLength="34.03" lengthAdjust="spacingAndGlyphs">33</tspan></text>
<text transform="translate(864.24,1165.6) rotate(90)" font-size="31.4"><tspan x="0.00" y="0" textLength="11.67" lengthAdjust="spacingAndGlyphs">f</tspan><tspan class="u" x="12.27" y="1.1" textLength="32.82" lengthAdjust="spacingAndGlyphs">__</tspan><tspan x="45.69" y="0" textLength="16.14" lengthAdjust="spacingAndGlyphs">S</tspan><tspan x="61.83" y="0" textLength="160.86" lengthAdjust="spacingAndGlyphs">iphoviridae</tspan><tspan x="222.69" y="0" textLength="25.31" lengthAdjust="spacingAndGlyphs">;g</tspan><tspan class="u" x="248.60" y="1.1" textLength="32.82" lengthAdjust="spacingAndGlyphs">__</tspan><tspan x="282.02" y="0" textLength="40.25" lengthAdjust="spacingAndGlyphs">Un</tspan><tspan x="322.27" y="0" textLength="14.29" lengthAdjust="spacingAndGlyphs">c</tspan><tspan x="336.56" y="0" textLength="25.26" lengthAdjust="spacingAndGlyphs">la</tspan><tspan x="361.83" y="0" textLength="27.31" lengthAdjust="spacingAndGlyphs">ss</tspan><tspan x="389.14" y="0" textLength="8.39" lengthAdjust="spacingAndGlyphs">i</tspan><tspan x="397.53" y="0" textLength="11.67" lengthAdjust="spacingAndGlyphs">f</tspan><tspan x="409.20" y="0" textLength="43.90" lengthAdjust="spacingAndGlyphs">ied</tspan><tspan x="453.10" y="0" textLength="9.12" lengthAdjust="spacingAndGlyphs">;</tspan><tspan x="462.23" y="0" textLength="13.66" lengthAdjust="spacingAndGlyphs">s</tspan><tspan class="u" x="476.48" y="1.1" textLength="32.82" lengthAdjust="spacingAndGlyphs">__</tspan><tspan x="509.90" y="0" textLength="16.14" lengthAdjust="spacingAndGlyphs">S</tspan><tspan x="526.04" y="0" textLength="11.84" lengthAdjust="spacingAndGlyphs">t</tspan><tspan x="537.88" y="0" textLength="47.64" lengthAdjust="spacingAndGlyphs">rep</tspan><tspan x="585.52" y="0" textLength="11.84" lengthAdjust="spacingAndGlyphs">t</tspan><tspan x="597.36" y="0" textLength="62.31" lengthAdjust="spacingAndGlyphs">omy</tspan><tspan x="659.67" y="0" textLength="14.29" lengthAdjust="spacingAndGlyphs">c</tspan><tspan x="673.96" y="0" textLength="17.18" lengthAdjust="spacingAndGlyphs">e</tspan><tspan x="691.14" y="0" textLength="13.66" lengthAdjust="spacingAndGlyphs">s</tspan> <tspan x="714.21" y="0" textLength="52.51" lengthAdjust="spacingAndGlyphs">pha</tspan><tspan x="766.73" y="0" textLength="15.87" lengthAdjust="spacingAndGlyphs">g</tspan><tspan x="782.60" y="0" textLength="16.84" lengthAdjust="spacingAndGlyphs">e</tspan> <tspan x="808.86" y="0" textLength="33.07" lengthAdjust="spacingAndGlyphs">Dr</tspan><tspan x="841.93" y="0" textLength="21.39" lengthAdjust="spacingAndGlyphs">G</tspan><tspan x="863.32" y="0" textLength="44.71" lengthAdjust="spacingAndGlyphs">rey</tspan></text>
<text transform="translate(918.32,1165.6) rotate(90)" font-size="31.4"><tspan x="0.00" y="0" textLength="11.67" lengthAdjust="spacingAndGlyphs">f</tspan><tspan class="u" x="12.27" y="1.1" textLength="32.82" lengthAdjust="spacingAndGlyphs">__</tspan><tspan x="45.69" y="0" textLength="16.14" lengthAdjust="spacingAndGlyphs">S</tspan><tspan x="61.83" y="0" textLength="160.86" lengthAdjust="spacingAndGlyphs">iphoviridae</tspan><tspan x="222.69" y="0" textLength="25.31" lengthAdjust="spacingAndGlyphs">;g</tspan><tspan class="u" x="248.60" y="1.1" textLength="32.82" lengthAdjust="spacingAndGlyphs">__</tspan><tspan x="282.02" y="0" textLength="40.25" lengthAdjust="spacingAndGlyphs">Un</tspan><tspan x="322.27" y="0" textLength="14.29" lengthAdjust="spacingAndGlyphs">c</tspan><tspan x="336.56" y="0" textLength="25.26" lengthAdjust="spacingAndGlyphs">la</tspan><tspan x="361.83" y="0" textLength="27.31" lengthAdjust="spacingAndGlyphs">ss</tspan><tspan x="389.14" y="0" textLength="8.39" lengthAdjust="spacingAndGlyphs">i</tspan><tspan x="397.53" y="0" textLength="11.67" lengthAdjust="spacingAndGlyphs">f</tspan><tspan x="409.20" y="0" textLength="43.90" lengthAdjust="spacingAndGlyphs">ied</tspan><tspan x="453.10" y="0" textLength="9.12" lengthAdjust="spacingAndGlyphs">;</tspan><tspan x="462.23" y="0" textLength="13.66" lengthAdjust="spacingAndGlyphs">s</tspan><tspan class="u" x="476.48" y="1.1" textLength="32.82" lengthAdjust="spacingAndGlyphs">__</tspan><tspan x="509.90" y="0" textLength="16.14" lengthAdjust="spacingAndGlyphs">S</tspan><tspan x="526.04" y="0" textLength="11.84" lengthAdjust="spacingAndGlyphs">t</tspan><tspan x="537.88" y="0" textLength="47.64" lengthAdjust="spacingAndGlyphs">rep</tspan><tspan x="585.52" y="0" textLength="11.84" lengthAdjust="spacingAndGlyphs">t</tspan><tspan x="597.36" y="0" textLength="62.31" lengthAdjust="spacingAndGlyphs">omy</tspan><tspan x="659.67" y="0" textLength="14.29" lengthAdjust="spacingAndGlyphs">c</tspan><tspan x="673.96" y="0" textLength="17.18" lengthAdjust="spacingAndGlyphs">e</tspan><tspan x="691.14" y="0" textLength="13.66" lengthAdjust="spacingAndGlyphs">s</tspan> <tspan x="714.21" y="0" textLength="52.51" lengthAdjust="spacingAndGlyphs">pha</tspan><tspan x="766.73" y="0" textLength="15.87" lengthAdjust="spacingAndGlyphs">g</tspan><tspan x="782.60" y="0" textLength="16.84" lengthAdjust="spacingAndGlyphs">e</tspan> <tspan x="808.86" y="0" textLength="14.18" lengthAdjust="spacingAndGlyphs">L</tspan><tspan x="823.05" y="0" textLength="80.16" lengthAdjust="spacingAndGlyphs">orelei</tspan></text>
<text transform="translate(972.40,1165.6) rotate(90)" font-size="31.4"><tspan x="0.00" y="0" textLength="11.67" lengthAdjust="spacingAndGlyphs">f</tspan><tspan class="u" x="12.27" y="1.1" textLength="32.82" lengthAdjust="spacingAndGlyphs">__</tspan><tspan x="45.69" y="0" textLength="16.14" lengthAdjust="spacingAndGlyphs">S</tspan><tspan x="61.83" y="0" textLength="160.86" lengthAdjust="spacingAndGlyphs">iphoviridae</tspan><tspan x="222.69" y="0" textLength="25.31" lengthAdjust="spacingAndGlyphs">;g</tspan><tspan class="u" x="248.60" y="1.1" textLength="32.82" lengthAdjust="spacingAndGlyphs">__</tspan><tspan x="282.02" y="0" textLength="40.25" lengthAdjust="spacingAndGlyphs">Un</tspan><tspan x="322.27" y="0" textLength="14.29" lengthAdjust="spacingAndGlyphs">c</tspan><tspan x="336.56" y="0" textLength="25.26" lengthAdjust="spacingAndGlyphs">la</tspan><tspan x="361.83" y="0" textLength="27.31" lengthAdjust="spacingAndGlyphs">ss</tspan><tspan x="389.14" y="0" textLength="8.39" lengthAdjust="spacingAndGlyphs">i</tspan><tspan x="397.53" y="0" textLength="11.67" lengthAdjust="spacingAndGlyphs">f</tspan><tspan x="409.20" y="0" textLength="43.90" lengthAdjust="spacingAndGlyphs">ied</tspan><tspan x="453.10" y="0" textLength="9.12" lengthAdjust="spacingAndGlyphs">;</tspan><tspan x="462.23" y="0" textLength="13.66" lengthAdjust="spacingAndGlyphs">s</tspan><tspan class="u" x="476.48" y="1.1" textLength="32.82" lengthAdjust="spacingAndGlyphs">__</tspan><tspan x="509.90" y="0" textLength="16.14" lengthAdjust="spacingAndGlyphs">S</tspan><tspan x="526.04" y="0" textLength="11.84" lengthAdjust="spacingAndGlyphs">t</tspan><tspan x="537.88" y="0" textLength="47.64" lengthAdjust="spacingAndGlyphs">rep</tspan><tspan x="585.52" y="0" textLength="11.84" lengthAdjust="spacingAndGlyphs">t</tspan><tspan x="597.36" y="0" textLength="62.31" lengthAdjust="spacingAndGlyphs">omy</tspan><tspan x="659.67" y="0" textLength="14.29" lengthAdjust="spacingAndGlyphs">c</tspan><tspan x="673.96" y="0" textLength="17.18" lengthAdjust="spacingAndGlyphs">e</tspan><tspan x="691.14" y="0" textLength="13.66" lengthAdjust="spacingAndGlyphs">s</tspan> <tspan x="714.21" y="0" textLength="52.51" lengthAdjust="spacingAndGlyphs">pha</tspan><tspan x="766.73" y="0" textLength="15.87" lengthAdjust="spacingAndGlyphs">g</tspan><tspan x="782.60" y="0" textLength="16.84" lengthAdjust="spacingAndGlyphs">e</tspan> <tspan x="808.86" y="0" textLength="29.50" lengthAdjust="spacingAndGlyphs">M</tspan><tspan x="838.36" y="0" textLength="116.02" lengthAdjust="spacingAndGlyphs">ildred21</tspan></text>
<text transform="translate(1026.48,1165.6) rotate(90)" font-size="31.4"><tspan x="0.00" y="0" textLength="11.67" lengthAdjust="spacingAndGlyphs">f</tspan><tspan class="u" x="12.27" y="1.1" textLength="32.82" lengthAdjust="spacingAndGlyphs">__</tspan><tspan x="45.69" y="0" textLength="16.14" lengthAdjust="spacingAndGlyphs">S</tspan><tspan x="61.83" y="0" textLength="160.86" lengthAdjust="spacingAndGlyphs">iphoviridae</tspan><tspan x="222.69" y="0" textLength="25.31" lengthAdjust="spacingAndGlyphs">;g</tspan><tspan class="u" x="248.60" y="1.1" textLength="32.82" lengthAdjust="spacingAndGlyphs">__</tspan><tspan x="282.02" y="0" textLength="40.25" lengthAdjust="spacingAndGlyphs">Un</tspan><tspan x="322.27" y="0" textLength="14.29" lengthAdjust="spacingAndGlyphs">c</tspan><tspan x="336.56" y="0" textLength="25.26" lengthAdjust="spacingAndGlyphs">la</tspan><tspan x="361.83" y="0" textLength="27.31" lengthAdjust="spacingAndGlyphs">ss</tspan><tspan x="389.14" y="0" textLength="8.39" lengthAdjust="spacingAndGlyphs">i</tspan><tspan x="397.53" y="0" textLength="11.67" lengthAdjust="spacingAndGlyphs">f</tspan><tspan x="409.20" y="0" textLength="43.90" lengthAdjust="spacingAndGlyphs">ied</tspan><tspan x="453.10" y="0" textLength="9.12" lengthAdjust="spacingAndGlyphs">;</tspan><tspan x="462.23" y="0" textLength="13.66" lengthAdjust="spacingAndGlyphs">s</tspan><tspan class="u" x="476.48" y="1.1" textLength="32.82" lengthAdjust="spacingAndGlyphs">__</tspan><tspan x="509.90" y="0" textLength="16.14" lengthAdjust="spacingAndGlyphs">S</tspan><tspan x="526.04" y="0" textLength="11.84" lengthAdjust="spacingAndGlyphs">t</tspan><tspan x="537.88" y="0" textLength="47.64" lengthAdjust="spacingAndGlyphs">rep</tspan><tspan x="585.52" y="0" textLength="11.84" lengthAdjust="spacingAndGlyphs">t</tspan><tspan x="597.36" y="0" textLength="62.31" lengthAdjust="spacingAndGlyphs">omy</tspan><tspan x="659.67" y="0" textLength="14.29" lengthAdjust="spacingAndGlyphs">c</tspan><tspan x="673.96" y="0" textLength="17.18" lengthAdjust="spacingAndGlyphs">e</tspan><tspan x="691.14" y="0" textLength="13.66" lengthAdjust="spacingAndGlyphs">s</tspan> <tspan x="714.21" y="0" textLength="52.51" lengthAdjust="spacingAndGlyphs">pha</tspan><tspan x="766.73" y="0" textLength="15.87" lengthAdjust="spacingAndGlyphs">g</tspan><tspan x="782.60" y="0" textLength="16.84" lengthAdjust="spacingAndGlyphs">e</tspan> <tspan x="808.86" y="0" textLength="29.81" lengthAdjust="spacingAndGlyphs">Sc</tspan><tspan x="838.67" y="0" textLength="51.45" lengthAdjust="spacingAndGlyphs">ap1</tspan></text>
<text transform="translate(1080.56,1165.6) rotate(90)" font-size="31.4"><tspan x="0.00" y="0" textLength="11.67" lengthAdjust="spacingAndGlyphs">f</tspan><tspan class="u" x="12.27" y="1.1" textLength="32.82" lengthAdjust="spacingAndGlyphs">__</tspan><tspan x="45.69" y="0" textLength="40.25" lengthAdjust="spacingAndGlyphs">Un</tspan><tspan x="85.94" y="0" textLength="14.29" lengthAdjust="spacingAndGlyphs">c</tspan><tspan x="100.23" y="0" textLength="25.26" lengthAdjust="spacingAndGlyphs">la</tspan><tspan x="125.49" y="0" textLength="27.31" lengthAdjust="spacingAndGlyphs">ss</tspan><tspan x="152.81" y="0" textLength="8.39" lengthAdjust="spacingAndGlyphs">i</tspan><tspan x="161.20" y="0" textLength="11.67" lengthAdjust="spacingAndGlyphs">f</tspan><tspan x="172.87" y="0" textLength="43.90" lengthAdjust="spacingAndGlyphs">ied</tspan><tspan x="216.77" y="0" textLength="25.31" lengthAdjust="spacingAndGlyphs">;g</tspan><tspan class="u" x="242.68" y="1.1" textLength="32.82" lengthAdjust="spacingAndGlyphs">__</tspan><tspan x="276.10" y="0" textLength="40.25" lengthAdjust="spacingAndGlyphs">Un</tspan><tspan x="316.35" y="0" textLength="14.29" lengthAdjust="spacingAndGlyphs">c</tspan><tspan x="330.64" y="0" textLength="25.26" lengthAdjust="spacingAndGlyphs">la</tspan><tspan x="355.91" y="0" textLength="27.31" lengthAdjust="spacingAndGlyphs">ss</tspan><tspan x="383.22" y="0" textLength="8.39" lengthAdjust="spacingAndGlyphs">i</tspan><tspan x="391.61" y="0" textLength="11.67" lengthAdjust="spacingAndGlyphs">f</tspan><tspan x="403.28" y="0" textLength="43.90" lengthAdjust="spacingAndGlyphs">ied</tspan><tspan x="447.18" y="0" textLength="9.12" lengthAdjust="spacingAndGlyphs">;</tspan><tspan x="456.31" y="0" textLength="13.66" lengthAdjust="spacingAndGlyphs">s</tspan><tspan class="u" x="470.56" y="1.1" textLength="32.82" lengthAdjust="spacingAndGlyphs">__</tspan><tspan x="503.98" y="0" textLength="18.18" lengthAdjust="spacingAndGlyphs">P</tspan><tspan x="522.15" y="0" textLength="13.66" lengthAdjust="spacingAndGlyphs">s</tspan><tspan x="535.81" y="0" textLength="153.57" lengthAdjust="spacingAndGlyphs">eudomona</tspan><tspan x="689.39" y="0" textLength="13.66" lengthAdjust="spacingAndGlyphs">s</tspan> <tspan x="712.46" y="0" textLength="52.51" lengthAdjust="spacingAndGlyphs">pha</tspan><tspan x="764.98" y="0" textLength="15.87" lengthAdjust="spacingAndGlyphs">g</tspan><tspan x="780.85" y="0" textLength="16.84" lengthAdjust="spacingAndGlyphs">e</tspan> <tspan x="807.11" y="0" textLength="59.12" lengthAdjust="spacingAndGlyphs">POR</tspan><tspan x="866.23" y="0" textLength="16.93" lengthAdjust="spacingAndGlyphs">1</tspan></text>
</svg>
</body>
</html>
